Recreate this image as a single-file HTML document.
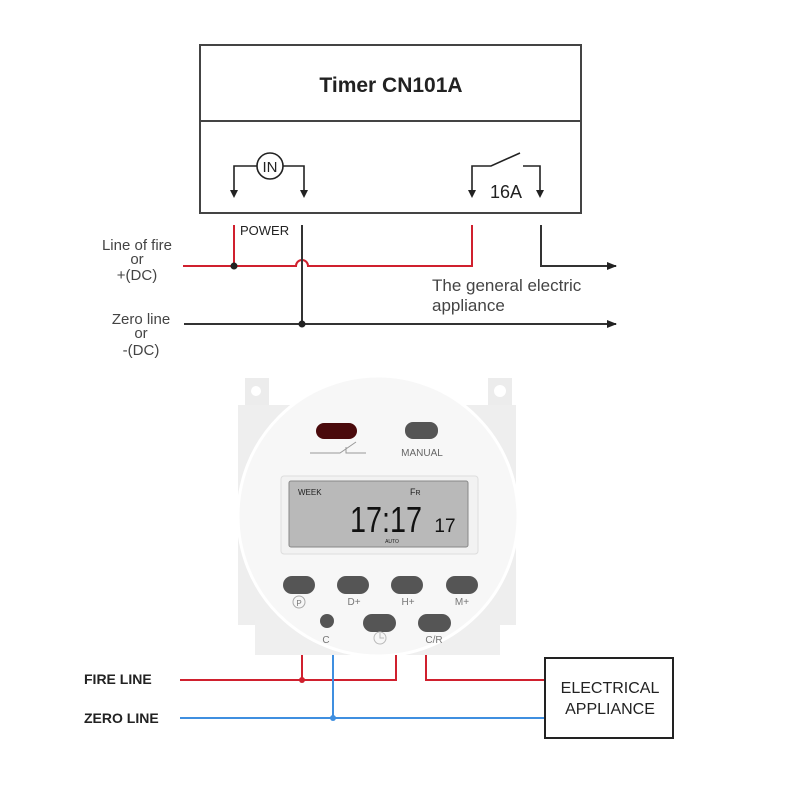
<!DOCTYPE html>
<html><head><meta charset="utf-8"><style>
html,body{margin:0;padding:0;background:#fff;}
svg{display:block;}
text{font-family:"Liberation Sans",sans-serif;}
</style></head><body>
<svg width="786" height="785" viewBox="0 0 786 785" xmlns="http://www.w3.org/2000/svg">
<defs>
<marker id="ah" markerWidth="10" markerHeight="8" refX="9" refY="4" orient="auto" markerUnits="userSpaceOnUse"><path d="M0,0 L10,4 L0,8 Z" fill="#222"/></marker>
</defs>
<rect x="200" y="45" width="381" height="168" fill="#fff" stroke="#444" stroke-width="2"/>
<line x1="200" y1="121" x2="581" y2="121" stroke="#444" stroke-width="2"/>
<text x="391" y="92" font-size="21" font-weight="bold" text-anchor="middle" fill="#222">Timer  CN101A</text>
<path d="M234,196 V166 H257 M283,166 H304 V196" fill="none" stroke="#222" stroke-width="1.6"/>
<path d="M230,190 L234,198 L238,190 Z M300,190 L304,198 L308,190 Z" fill="#222"/>
<circle cx="270" cy="166" r="13" fill="#fff" stroke="#222" stroke-width="1.6"/>
<text x="270" y="172" font-size="15" text-anchor="middle" fill="#222">IN</text>
<path d="M472,196 V166 H491 L520,153 M523,166 H540 V196" fill="none" stroke="#222" stroke-width="1.6"/>
<path d="M468,190 L472,198 L476,190 Z M536,190 L540,198 L544,190 Z" fill="#222"/>
<text x="506" y="198" font-size="18" text-anchor="middle" fill="#222">16A</text>
<text x="240" y="235" font-size="13" fill="#222">POWER</text>
<path d="M183,266 H296 A6,6 0 0 1 308,266 H472 V225 M234,225 V266" fill="none" stroke="#d0202e" stroke-width="2"/>
<circle cx="234" cy="266" r="3.5" fill="#222"/>
<path d="M302,225 V324" stroke="#333" stroke-width="2"/>
<path d="M541,225 V266 H616" fill="none" stroke="#333" stroke-width="2" marker-end="url(#ah)"/>
<path d="M184,324 H616" stroke="#333" stroke-width="2" marker-end="url(#ah)"/>
<circle cx="302" cy="324" r="3.5" fill="#222"/>
<text x="432" y="291" font-size="17" fill="#444">The general electric</text>
<text x="432" y="311" font-size="17" fill="#444">appliance</text>
<g font-size="15" fill="#444" text-anchor="middle">
<text x="137" y="250">Line of fire</text><text x="137" y="264">or</text><text x="137" y="280">+(DC)</text>
<text x="141" y="324">Zero line</text><text x="141" y="338">or</text><text x="141" y="355">-(DC)</text>
</g>
<rect x="245" y="378" width="24" height="30" fill="#ececec"/>
<rect x="488" y="378" width="24" height="30" fill="#ececec"/>
<circle cx="256" cy="391" r="5" fill="#fff"/><circle cx="500" cy="391" r="6" fill="#fff"/>
<rect x="238" y="405" width="278" height="220" fill="#eeeeee"/>
<rect x="255" y="620" width="245" height="35" fill="#efefef"/>
<circle cx="378" cy="516" r="140" fill="#f7f7f7" stroke="#fff" stroke-width="3"/>
<rect x="316" y="423" width="41" height="16" rx="8" fill="#4a0a0c"/>
<rect x="405" y="422" width="33" height="17" rx="8" fill="#555"/>
<path d="M310,453 H340 L356,442 M346,447 V453 H366" fill="none" stroke="#999" stroke-width="1"/>
<text x="422" y="456" font-size="10" text-anchor="middle" fill="#666">MANUAL</text>
<rect x="281" y="476" width="197" height="78" rx="3" fill="#f2f2f2" stroke="#ddd"/>
<rect x="289" y="481" width="179" height="66" rx="2" fill="#b9b9b9" stroke="#888"/>
<text x="298" y="495" font-size="8" fill="#222">WEEK</text>
<text x="410" y="495" font-size="9" fill="#222">F<tspan font-size="7">R</tspan></text>
<text x="350" y="532" font-size="36" fill="#111" textLength="72" lengthAdjust="spacingAndGlyphs">17:17</text>
<text x="445" y="532" font-size="19" text-anchor="middle" fill="#111">17</text>
<text x="392" y="543" font-size="5" text-anchor="middle" fill="#222">AUTO</text>
<g fill="#555">
<rect x="283" y="576" width="32" height="18" rx="9"/>
<rect x="337" y="576" width="32" height="18" rx="9"/>
<rect x="391" y="576" width="32" height="18" rx="9"/>
<rect x="446" y="576" width="32" height="18" rx="9"/>
<circle cx="327" cy="621" r="7"/>
<rect x="363" y="614" width="33" height="18" rx="9"/>
<rect x="418" y="614" width="33" height="18" rx="9"/>
</g>
<g font-size="10" fill="#777" text-anchor="middle">
<circle cx="299" cy="602" r="6" fill="none" stroke="#aaa"/><text x="299" y="606" font-size="8">P</text>
<text x="354" y="605">D+</text><text x="408" y="605">H+</text><text x="462" y="605">M+</text>
<text x="326" y="643">C</text><text x="434" y="643">C/R</text>
</g>
<circle cx="380" cy="638" r="6" fill="none" stroke="#bbb"/><path d="M380,633 V638 H384" fill="none" stroke="#bbb"/>
<path d="M180,680 H396 V655 M302,655 V680" fill="none" stroke="#d0202e" stroke-width="2"/>
<path d="M426,655 V680 H545" fill="none" stroke="#d0202e" stroke-width="2"/>
<circle cx="302" cy="680" r="3" fill="#d0202e"/>
<path d="M180,718 H545 M333,655 V718" fill="none" stroke="#3f8fe0" stroke-width="2"/>
<circle cx="333" cy="718" r="3" fill="#3f8fe0"/>
<rect x="545" y="658" width="128" height="80" fill="#fff" stroke="#222" stroke-width="2"/>
<g font-size="14" font-weight="bold" fill="#222">
<text x="84" y="684">FIRE LINE</text><text x="84" y="723">ZERO LINE</text>
<text x="610" y="693" text-anchor="middle" font-weight="normal" font-size="16">ELECTRICAL</text>
<text x="610" y="714" text-anchor="middle" font-weight="normal" font-size="16">APPLIANCE</text>
</g>
</svg>
</body></html>
